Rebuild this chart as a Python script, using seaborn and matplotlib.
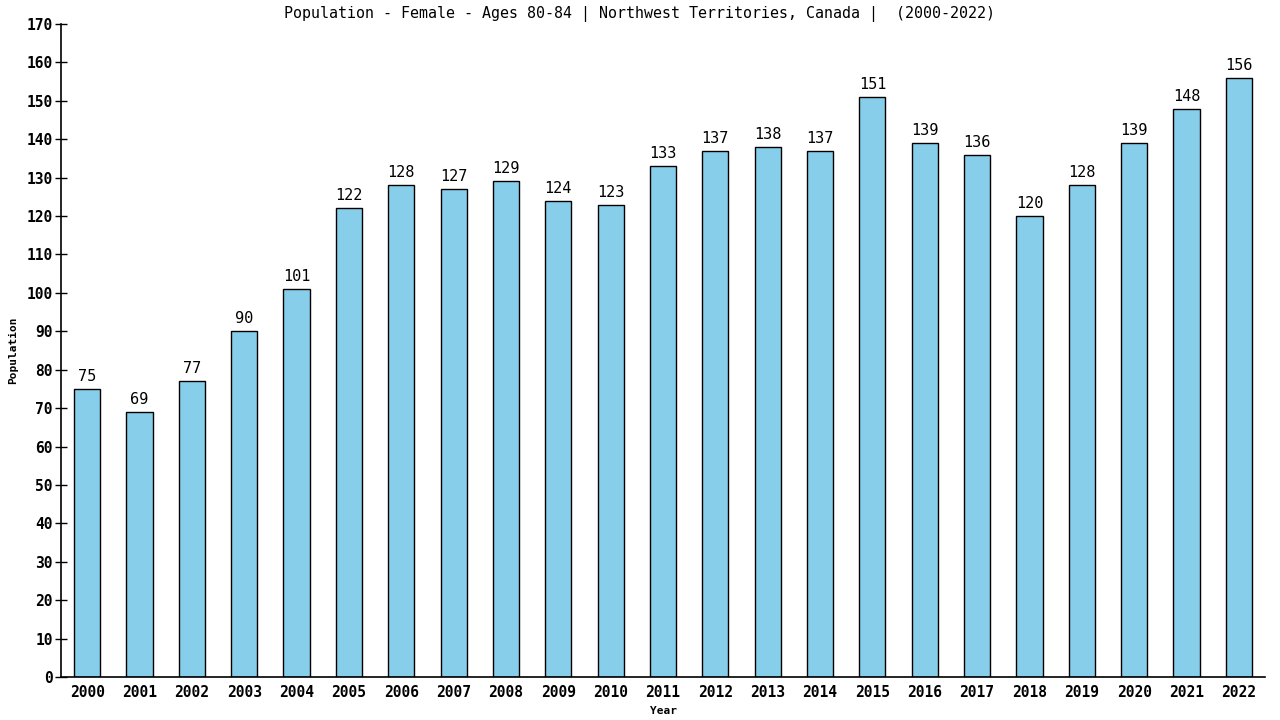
import matplotlib
matplotlib.use("Agg")
import matplotlib.pyplot as plt
import seaborn as sns
import pandas as pd

years = [str(y) for y in range(2000, 2023)]
values = [75, 69, 77, 90, 101, 122, 128, 127, 129, 124, 123, 133, 137, 138, 137, 151, 139, 136, 120, 128, 139, 148, 156]
y_ticks = list(range(0, 171, 10))

sns.set_style("white")
plt.rcParams['font.family'] = ['DejaVu Sans Mono', 'DejaVu Sans']
plt.rcParams['text.color'] = 'black'
plt.rcParams['axes.labelcolor'] = 'black'
plt.rcParams['xtick.color'] = 'black'
plt.rcParams['ytick.color'] = 'black'

df = pd.DataFrame({"Year": years, "Population": values})

fig = plt.figure(figsize=(12.8, 7.2), dpi=100)
ax = fig.add_axes([61/1280, 43/720, (1265-61)/1280, (677-24)/720])
sns.barplot(data=df, x="Year", y="Population", color="#87CEEB", width=0.5,
            edgecolor="black", linewidth=1, saturation=1, ax=ax)

for i, v in enumerate(values):
    ax.text(i, v + 1.3, str(v), ha="center", va="bottom", fontsize=11, color="black")

ax.set_xlim(-0.5, 22.5)
ax.set_ylim(0, 170)
ax.set_yticks(y_ticks)
ax.set_yticklabels([str(t) for t in y_ticks], fontsize=10.5, fontweight="bold")
for lbl in ax.get_xticklabels():
    lbl.set_fontsize(10.5)
    lbl.set_fontweight("bold")
ax.tick_params(axis="y", left=True, direction="inout", length=8, width=1, pad=2, colors="black")
ax.tick_params(axis="x", bottom=False, length=0, pad=6, colors="black")
for s in ["top", "right"]:
    ax.spines[s].set_visible(False)
for s in ["left", "bottom"]:
    ax.spines[s].set_color("black")
    ax.spines[s].set_linewidth(1.2)

ax.set_xlabel("Year", fontsize=8, fontweight="bold", labelpad=4, color="black")
ax.set_ylabel("Population", fontsize=8, fontweight="bold", labelpad=6, color="black")
fig.text(0.5, 1 - 14/720, "Population - Female - Ages 80-84 | Northwest Territories, Canada |  (2000-2022)",
         fontsize=10.8, ha="center", va="center", color="black")

fig.savefig("out.png", dpi=100)
